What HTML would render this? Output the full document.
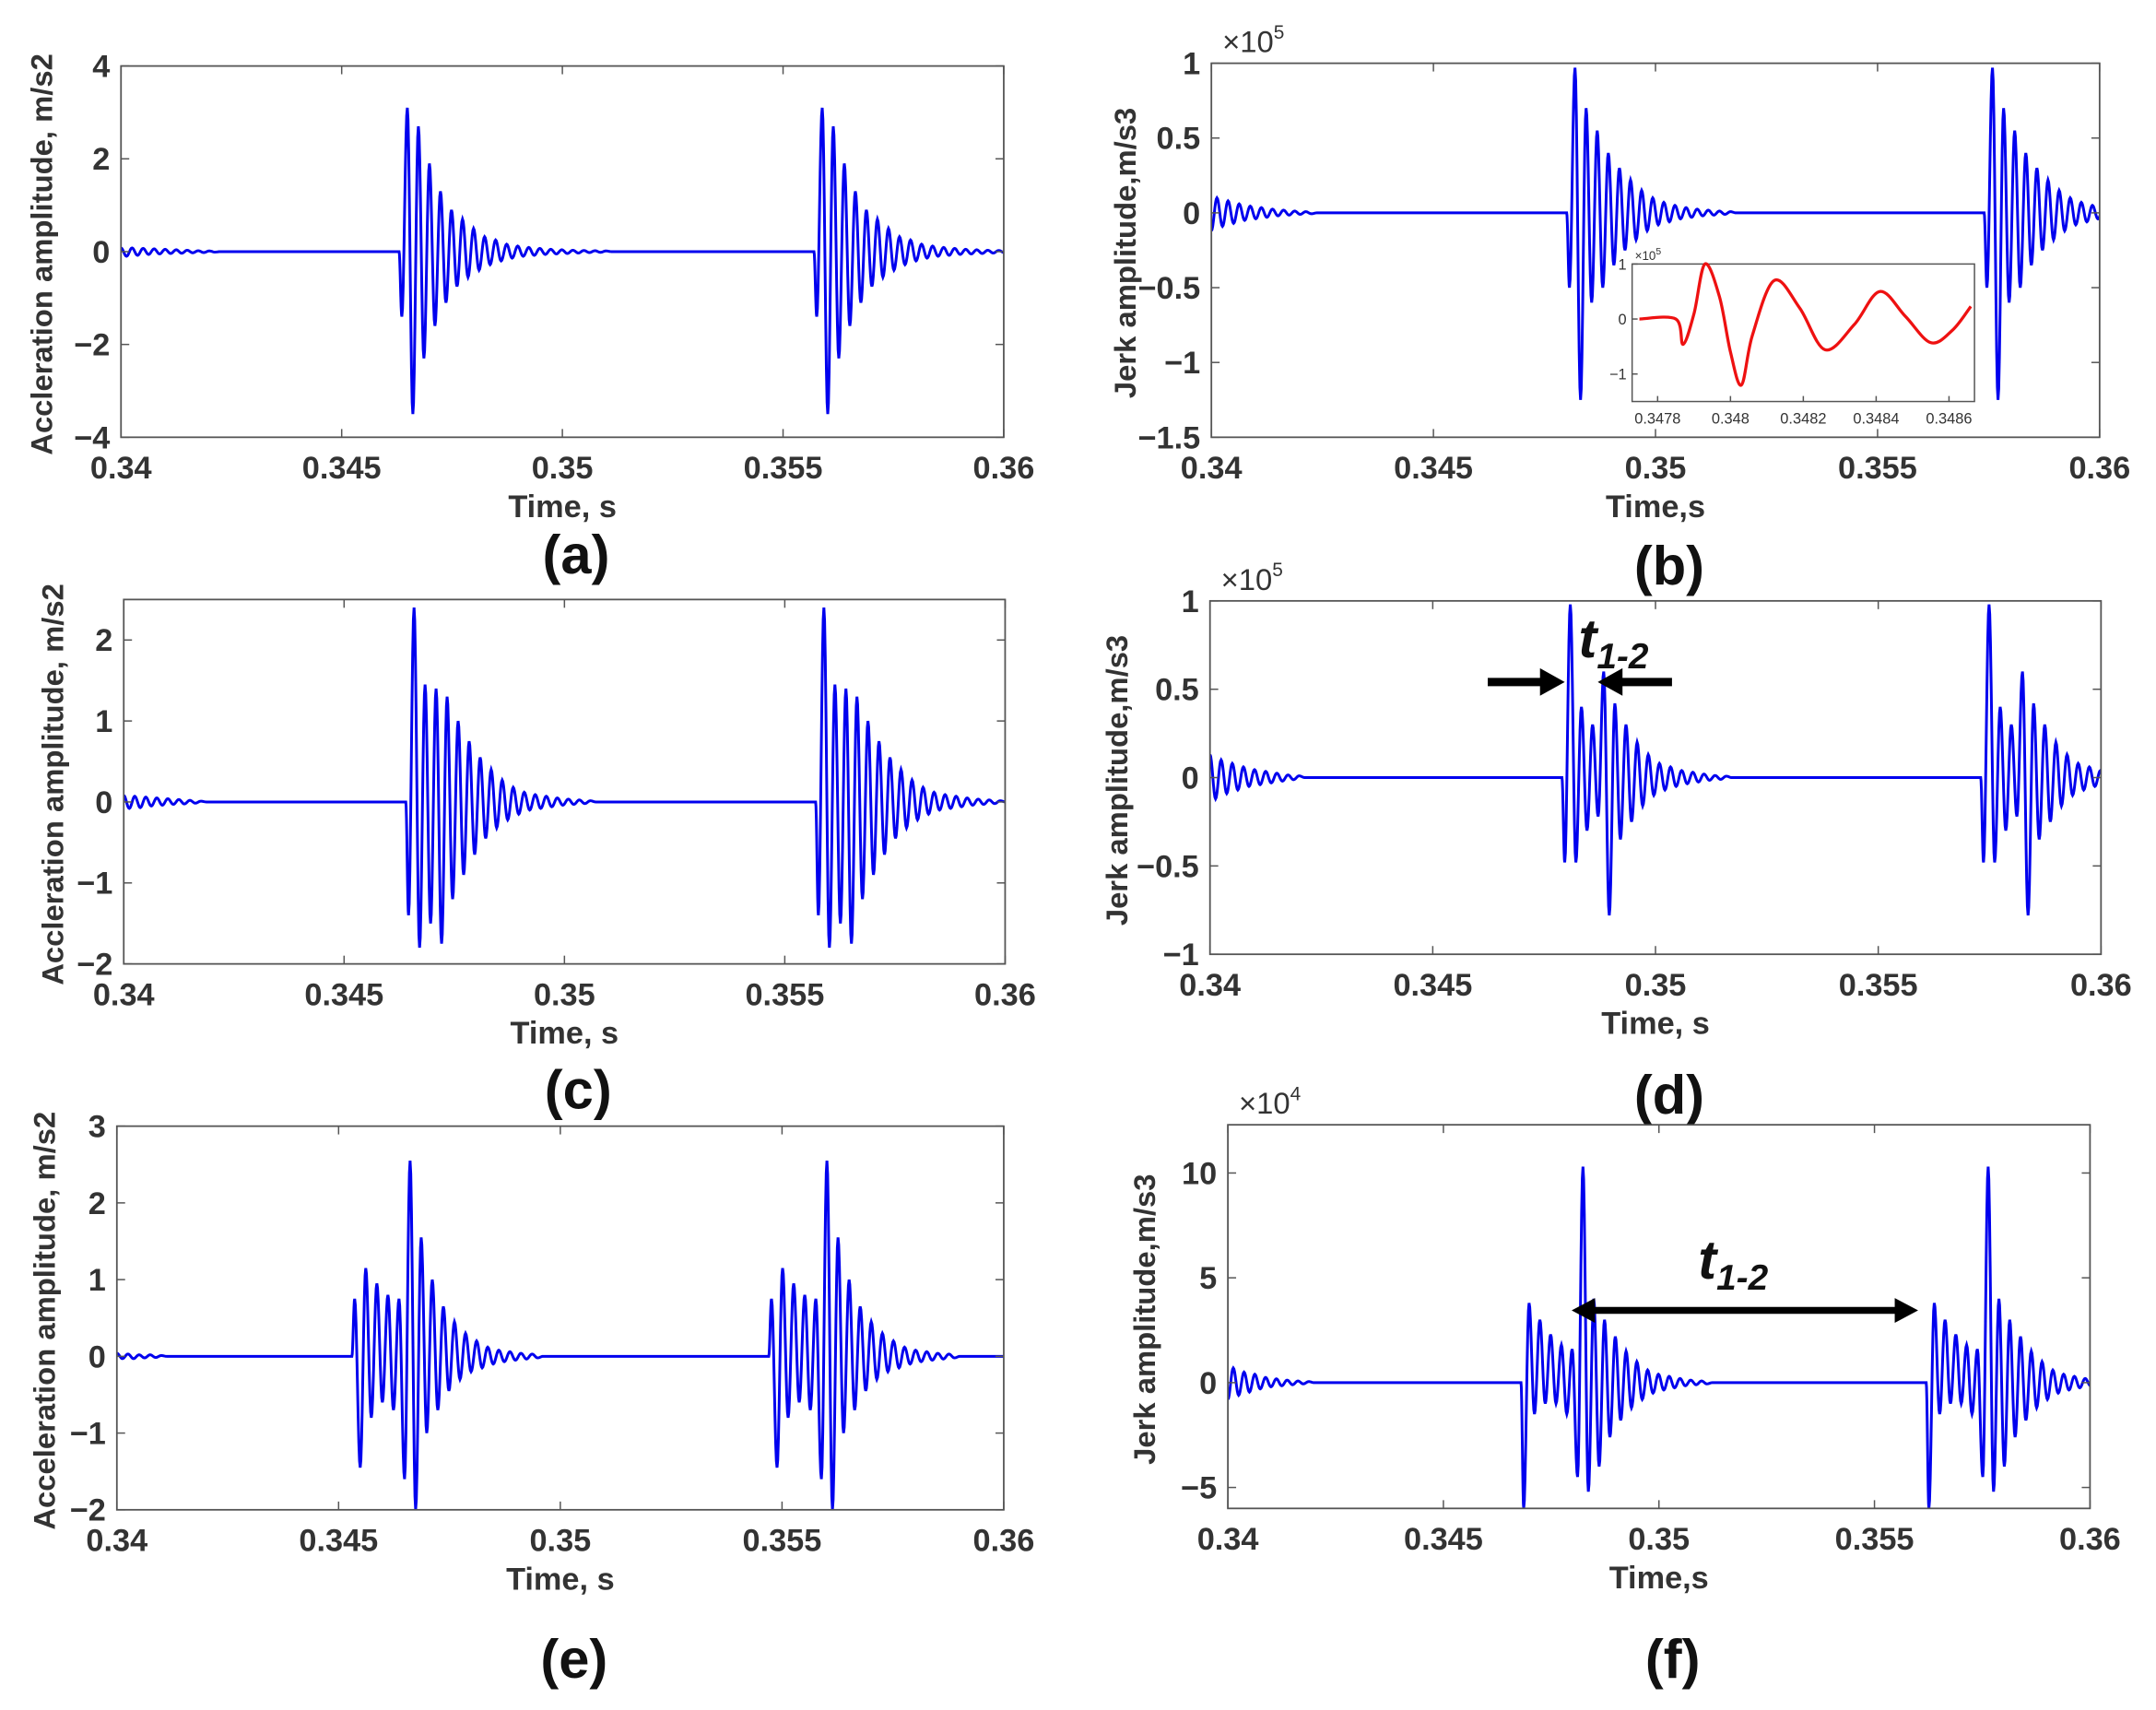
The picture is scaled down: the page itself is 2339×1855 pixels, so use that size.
<!DOCTYPE html>
<html><head><meta charset="utf-8">
<style>
html,body{margin:0;padding:0;background:#fff;}
svg{display:block;}
text{font-family:"Liberation Sans",Arial,sans-serif;}
</style></head>
<body>
<svg id="fig" width="2339" height="1855" viewBox="0 0 1568 1243.6" preserveAspectRatio="none" xmlns="http://www.w3.org/2000/svg">
<rect x="0" y="0" width="1568" height="1243.6" fill="#fff"/>
</svg>
<script>
// ---------- data ----------
const xTicks = [0.34, 0.345, 0.35, 0.355, 0.36];
const xTickLabels = ["0.34", "0.345", "0.35", "0.355", "0.36"];
const halfPeriod = 0.000125;

// panel a
const aOnsets = [0.3463, 0.3557];
const aPeaks = [-1.4, 3.1, -3.5, 2.7, -2.3, 1.9, -1.6, 1.3, -1.1, 0.9, -0.75, 0.7, -0.55, 0.5, -0.4, 0.32, -0.28, 0.25, -0.2, 0.16, -0.14, 0.12, -0.1, 0.09, -0.08, 0.07, -0.06, 0.05, -0.05, 0.04, -0.04, 0.03, -0.03, 0.025, -0.02, 0.02, -0.015, 0.015];
const aLead = [0.08, -0.1, 0.08, -0.08, 0.07, -0.06, 0.06, -0.05, 0.05, -0.04, 0.04, -0.035, 0.03, -0.025, 0.02, -0.02, 0.015, -0.01];
const aYTicks = [4, 2, 0, -2, -4];
// panel b
const bOnsets = [0.348, 0.3574];
const bPeaks = [-0.5, 0.97, -1.25, 0.7, -0.6, 0.55, -0.5, 0.4, -0.35, 0.3, -0.25, 0.22, -0.18, 0.15, -0.12, 0.1, -0.08, 0.07, -0.06, 0.05, -0.04, 0.035, -0.03, 0.025, -0.02, 0.018, -0.015, 0.012, -0.01, 0.008];
const bLead = [-0.12, 0.1, -0.09, 0.08, -0.07, 0.06, -0.05, 0.045, -0.04, 0.035, -0.03, 0.025, -0.02, 0.018, -0.015, 0.012, -0.01, 0.008, -0.006];
const bYTicks = [1, 0.5, 0, -0.5, -1, -1.5];
// inset b
const insetT = [0.34775, 0.34785, 0.34787, 0.34790, 0.34793, 0.34797, 0.34800, 0.34803, 0.34806, 0.34812, 0.34819, 0.34826, 0.34834, 0.34841, 0.34848, 0.34855, 0.34861, 0.34866];
const insetV = [0, 0, -0.46, 0.1, 1.0, 0.4, -0.6, -1.2, -0.3, 0.7, 0.2, -0.56, -0.1, 0.5, 0.05, -0.43, -0.2, 0.23];
const insetXTicks = [0.3478, 0.348, 0.3482, 0.3484, 0.3486];
const insetXLabels = ["0.3478", "0.348", "0.3482", "0.3484", "0.3486"];
const insetYTicks = [1, 0, -1];
// panel c
const cOnsets = [0.3464, 0.3557];
const cPeaks = [-1.4, 2.4, -1.8, 1.45, -1.5, 1.4, -1.75, 1.3, -1.2, 1.0, -0.9, 0.75, -0.65, 0.55, -0.45, 0.4, -0.32, 0.27, -0.22, 0.18, -0.15, 0.12, -0.1, 0.09, -0.08, 0.07, -0.06, 0.05, -0.04, 0.035, -0.03, 0.025, -0.02, 0.015];
const cLead = [0.08, -0.08, 0.07, -0.07, 0.06, -0.05, 0.05, -0.04, 0.04, -0.03, 0.03, -0.025, 0.02, -0.015, 0.01];
const cYTicks = [2, 1, 0, -1, -2];
// panel d
const dOnsets = [0.3479, 0.3573];
const dPeaks = [-0.48, 0.98, -0.48, 0.4, -0.3, 0.3, -0.22, 0.6, -0.78, 0.42, -0.35, 0.3, -0.25, 0.2, -0.16, 0.13, -0.1, 0.08, -0.07, 0.06, -0.05, 0.04, -0.035, 0.03, -0.025, 0.02, -0.015, 0.012, -0.01, 0.008];
const dLead = [0.13, -0.12, 0.1, -0.09, 0.08, -0.07, 0.06, -0.05, 0.045, -0.04, 0.035, -0.03, 0.025, -0.02, 0.015, -0.012, 0.01];
const dYTicks = [1, 0.5, 0, -0.5, -1];
// panel e
const eOnsets = [0.3453, 0.3547];
const ePeaks = [0.75, -1.45, 1.15, -0.8, 0.95, -0.6, 0.8, -0.7, 0.75, -1.6, 2.55, -2.0, 1.55, -1.0, 1.0, -0.7, 0.65, -0.45, 0.45, -0.3, 0.3, -0.2, 0.2, -0.15, 0.12, -0.1, 0.08, -0.07, 0.06, -0.05, 0.04, -0.035, 0.03, -0.02];
const eLead = [0.04, -0.03, 0.03, -0.03, 0.02, -0.02, 0.02, -0.015, 0.01];
const eYTicks = [3, 2, 1, 0, -1, -2];
// panel f
const fOnsets = [0.3468, 0.3562];
const fPeaks = [-6, 3.8, -1.5, 3.0, -1.0, 2.3, -1.0, 1.8, -1.5, 1.6, -4.5, 10.3, -5.2, 4.0, -4.0, 3.0, -2.6, 2.2, -1.8, 1.5, -1.2, 1.0, -0.8, 0.6, -0.5, 0.4, -0.35, 0.3, -0.25, 0.2, -0.15, 0.12, -0.1, 0.08, -0.06];
const fLead = [-0.8, 0.7, -0.6, 0.5, -0.45, 0.4, -0.3, 0.25, -0.2, 0.18, -0.15, 0.12, -0.1, 0.08, -0.06, 0.05];
const fYTicks = [10, 5, 0, -5];

// ---------- drawing ----------
const NS = "http://www.w3.org/2000/svg";
const svg = document.getElementById('fig');
function mk(tag, attrs, parent) {
  const e = document.createElementNS(NS, tag);
  for (const k in attrs) e.setAttribute(k, attrs[k]);
  (parent || svg).appendChild(e);
  return e;
}
function txt(s, x, y, size, opts, name) {
  const t = mk('text', Object.assign({x: x, y: y, 'font-size': size, fill: '#333', 'font-weight': 'bold', 'text-anchor': 'middle'}, opts || {}));
  t.textContent = s;
  
  
  return t;
}
let clipId = 0;
function panel(p) {
  const sx = v => p.x0 + (v - 0.34) / 0.02 * (p.x1 - p.x0);
  const sy = v => p.y1 - (v - p.ymin) / (p.ymax - p.ymin) * (p.y1 - p.y0);
  const g = mk('g', {});
  
  
  const pts = [];
  p.lead.forEach((v, i) => pts.push([0.34 + i * halfPeriod, v]));
  pts.push([0.34 + p.lead.length * halfPeriod, 0]);
  p.onsets.forEach(o => {
    pts.push([o, 0]);
    p.peaks.forEach((v, i) => pts.push([o + (i + 0.5) * halfPeriod, v]));
    pts.push([o + (p.peaks.length + 0.5) * halfPeriod, 0]);
  });
  pts.push([0.361, 0]);
  pts.sort((a, b) => a[0] - b[0]);
  let d = 'M' + sx(pts[0][0]).toFixed(2) + ',' + sy(pts[0][1]).toFixed(2);
  for (let i = 1; i < pts.length; i++) {
    const [ta, va] = pts[i - 1], [tb, vb] = pts[i];
    const n = (tb - ta) > 3 * halfPeriod ? 1 : 8;
    for (let k = 1; k <= n; k++) {
      const u = k / n, w = n === 1 ? u : (1 - Math.cos(Math.PI * u)) / 2;
      d += 'L' + sx(ta + (tb - ta) * u).toFixed(2) + ',' + sy(va + (vb - va) * w).toFixed(2);
    }
  }
  const cid = 'clip' + (clipId++);
  const cp = mk('clipPath', {id: cid}, g);
  mk('rect', {x: p.x0, y: p.y0, width: p.x1 - p.x0, height: p.y1 - p.y0}, cp);
  const line = mk('path', {d: d, fill: 'none', stroke: '#0000ee', 'stroke-width': 2, 'clip-path': 'url(#' + cid + ')'}, g);
  
  
  const box = mk('rect', {x: p.x0, y: p.y0, width: p.x1 - p.x0, height: p.y1 - p.y0, fill: 'none', stroke: '#555', 'stroke-width': 1.2}, g);
  
  
  xTicks.forEach((v, i) => {
    const X = sx(v);
    mk('line', {x1: X, x2: X, y1: p.y1, y2: p.y1 - 6, stroke: '#555'}, g);
    mk('line', {x1: X, x2: X, y1: p.y0, y2: p.y0 + 6, stroke: '#555'}, g);
    txt(xTickLabels[i], X, p.y1 + 30, 23, {}, 'x-tick-label');
  });
  p.yticks.forEach(v => {
    const Y = sy(v);
    mk('line', {x1: p.x0, x2: p.x0 + 6, y1: Y, y2: Y, stroke: '#555'}, g);
    mk('line', {x1: p.x1, x2: p.x1 - 6, y1: Y, y2: Y, stroke: '#555'}, g);
    txt(v < 0 ? '\u2212' + Math.abs(v) : String(v), p.x0 - 8, Y + 8, 23, {'text-anchor': 'end'}, 'y-tick-label');
  });
  if (p.exp) {
    const t = txt('\u00d710', p.x0 + 8, p.y0 - 8, 22, {'text-anchor': 'start', 'font-weight': 'normal'}, 'y-exponent');
    const ts = mk('tspan', {dy: -10, 'font-size': 14}, t); ts.textContent = p.exp;
  }
  txt(p.xlabel, (p.x0 + p.x1) / 2, p.y1 + 58, 23, {}, 'x-axis-title');
  txt(p.ylabel, 0, 0, 22, {transform: 'translate(' + p.ylx + ',' + ((p.y0 + p.y1) / 2 + 2) + ') rotate(-90)'}, 'y-axis-title');
  txt(p.letter, (p.x0 + p.x1) / 2 + 10, p.letterY, 40, {fill: '#111'}, 'panel-label');
}

panel({id: 'a', x0: 88, x1: 730, y0: 48, y1: 318, ymin: -4, ymax: 4, yticks: aYTicks, onsets: aOnsets, peaks: aPeaks, lead: aLead, xlabel: 'Time, s', ylabel: 'Accleration amplitude, m/s2', ylx: 38, letter: '(a)', letterY: 417});
panel({id: 'b', x0: 881, x1: 1527, y0: 46, y1: 318, ymin: -1.5, ymax: 1, yticks: bYTicks, onsets: bOnsets, peaks: bPeaks, lead: bLead, xlabel: 'Time,s', ylabel: 'Jerk amplitude,m/s3', ylx: 826, exp: '5', letter: '(b)', letterY: 425});
panel({id: 'c', x0: 90, x1: 731, y0: 436, y1: 701, ymin: -2, ymax: 2.5, yticks: cYTicks, onsets: cOnsets, peaks: cPeaks, lead: cLead, xlabel: 'Time, s', ylabel: 'Accleration amplitude, m/s2', ylx: 46, letter: '(c)', letterY: 806});
panel({id: 'd', x0: 880, x1: 1528, y0: 437, y1: 694, ymin: -1, ymax: 1, yticks: dYTicks, onsets: dOnsets, peaks: dPeaks, lead: dLead, xlabel: 'Time, s', ylabel: 'Jerk amplitude,m/s3', ylx: 820, exp: '5', letter: '(d)', letterY: 810});
panel({id: 'e', x0: 85, x1: 730, y0: 819, y1: 1098, ymin: -2, ymax: 3, yticks: eYTicks, onsets: eOnsets, peaks: ePeaks, lead: eLead, xlabel: 'Time, s', ylabel: 'Acceleration amplitude, m/s2', ylx: 40, letter: '(e)', letterY: 1220});
panel({id: 'f', x0: 893, x1: 1520, y0: 818, y1: 1097, ymin: -6, ymax: 12.3, yticks: fYTicks, onsets: fOnsets, peaks: fPeaks, lead: fLead, xlabel: 'Time,s', ylabel: 'Jerk amplitude,m/s3', ylx: 840, exp: '4', letter: '(f)', letterY: 1220});

// inset in (b)
(function () {
  const x0 = 1187, x1 = 1436, y0 = 192, y1 = 292, ymin = -1.5, ymax = 1.0;
  const tmin = 0.34773, tmax = 0.34867;
  const sx = v => x0 + (v - tmin) / (tmax - tmin) * (x1 - x0);
  const sy = v => y1 - (v - ymin) / (ymax - ymin) * (y1 - y0);
  const g = mk('g', {});
  
  
  mk('rect', {x: x0, y: y0, width: x1 - x0, height: y1 - y0, fill: '#fff', stroke: '#555', 'stroke-width': 1}, g);
  const P = insetT.map((t, i) => [sx(t), sy(insetV[i])]);
  let d = 'M' + P[0][0] + ',' + P[0][1];
  for (let i = 0; i < P.length - 1; i++) {
    const p0 = P[Math.max(0, i - 1)], p1 = P[i], p2 = P[i + 1], p3 = P[Math.min(P.length - 1, i + 2)];
    const c1 = [p1[0] + (p2[0] - p0[0]) / 6, p1[1] + (p2[1] - p0[1]) / 6];
    const c2 = [p2[0] - (p3[0] - p1[0]) / 6, p2[1] - (p3[1] - p1[1]) / 6];
    d += 'C' + c1.join(',') + ' ' + c2.join(',') + ' ' + p2.join(',');
  }
  const l = mk('path', {d: d, fill: 'none', stroke: '#ee1111', 'stroke-width': 2.2}, g);
  
  
  insetXTicks.forEach((v, i) => {
    mk('line', {x1: sx(v), x2: sx(v), y1: y1, y2: y1 - 4, stroke: '#555'}, g);
    txt(insetXLabels[i], sx(v), y1 + 16, 11, {'font-weight': 'normal'}, 'inset-x-tick-label');
  });
  insetYTicks.forEach(v => {
    mk('line', {x1: x0, x2: x0 + 4, y1: sy(v), y2: sy(v), stroke: '#555'}, g);
    txt(v < 0 ? '\u2212' + Math.abs(v) : String(v), x0 - 4, sy(v) + 4, 11, {'text-anchor': 'end', 'font-weight': 'normal'}, 'inset-y-tick-label');
  });
  const t = txt('\u00d710', x0 + 2, y0 - 3, 9, {'text-anchor': 'start', 'font-weight': 'normal'}, 'inset-exponent');
  const ts = mk('tspan', {dy: -4, 'font-size': 7}, t); ts.textContent = '5';
})();

// annotations
(function () {
  const g = mk('g', {});
  
  
  mk('line', {x1: 1082, y1: 496, x2: 1122, y2: 496, stroke: '#000', 'stroke-width': 6}, g);
  mk('polygon', {points: '1120,486 1138,496 1120,506', fill: '#000'}, g);
  mk('line', {x1: 1216, y1: 496, x2: 1178, y2: 496, stroke: '#000', 'stroke-width': 6}, g);
  mk('polygon', {points: '1180,486 1162,496 1180,506', fill: '#000'}, g);
  const t1 = txt('t', 1148, 478, 40, {'text-anchor': 'start', 'font-family': 'Liberation Serif, serif', 'font-style': 'italic', fill: '#111'}, 'interval-label-d');
  const s1 = mk('tspan', {dy: 8, 'font-size': 26}, t1); s1.textContent = '1-2';
  mk('line', {x1: 1158, y1: 953, x2: 1380, y2: 953, stroke: '#000', 'stroke-width': 5}, g);
  mk('polygon', {points: '1160,944 1143,953 1160,962', fill: '#000'}, g);
  mk('polygon', {points: '1378,944 1395,953 1378,962', fill: '#000'}, g);
  const t2 = txt('t', 1235, 930, 40, {'text-anchor': 'start', 'font-family': 'Liberation Serif, serif', 'font-style': 'italic', fill: '#111'}, 'interval-label-f');
  const s2 = mk('tspan', {dy: 8, 'font-size': 26}, t2); s2.textContent = '1-2';
})();
</script>
</body></html>
